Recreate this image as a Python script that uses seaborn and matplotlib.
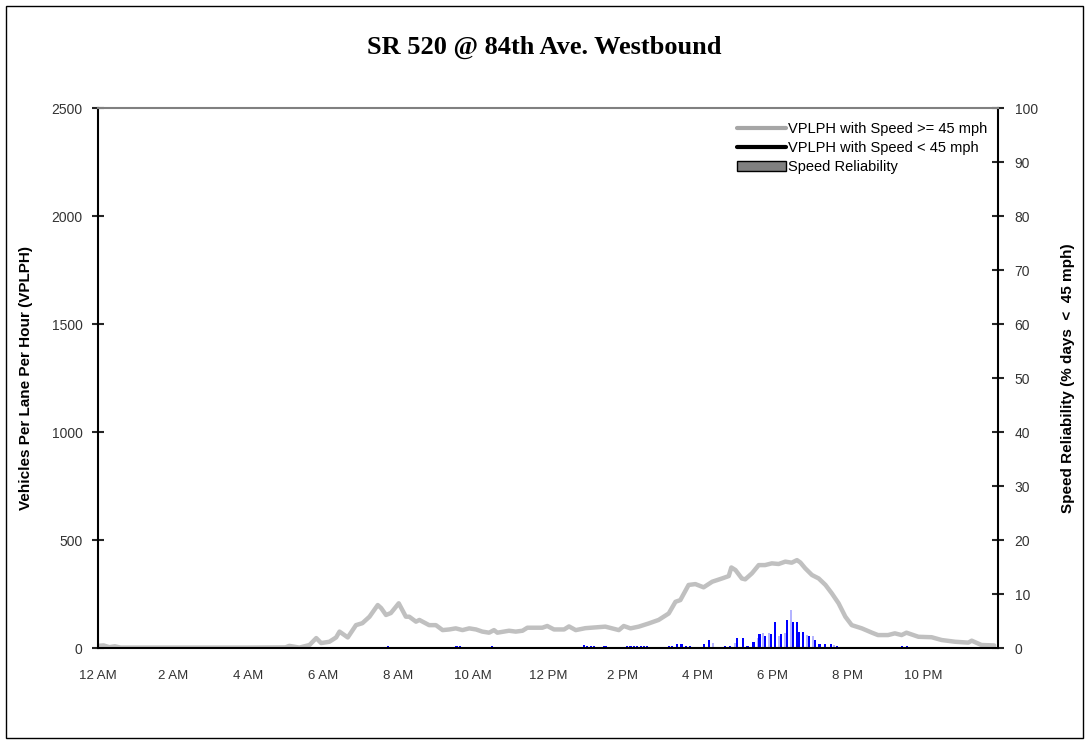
import numpy as np
import pandas as pd
import matplotlib
matplotlib.use("Agg")
import matplotlib.pyplot as plt
import seaborn as sns
from matplotlib.lines import Line2D
from matplotlib.patches import Patch, Rectangle

sns.set_style("white")
plt.rcParams['font.family'] = ['Liberation Sans', 'DejaVu Sans']
plt.rcParams['text.color'] = 'black'
plt.rcParams['axes.labelcolor'] = 'black'

# volume, hour of day -> vehicles per lane per hour (speed >= 45 mph)
hours = [0.0, 0.15, 0.3, 0.45, 0.6, 1.0, 2.0, 3.0, 4.0, 5.0, 5.1, 5.37, 5.64, 5.82, 5.95,
         6.17, 6.35, 6.44, 6.66, 6.88, 7.05, 7.24, 7.46, 7.55, 7.68, 7.81, 8.02, 8.21, 8.3,
         8.48, 8.57, 8.83, 9.01, 9.19, 9.37, 9.54, 9.72, 9.9, 10.08, 10.25, 10.43, 10.56,
         10.65, 10.96, 11.14, 11.32, 11.45, 11.85, 11.98, 12.16, 12.43, 12.56, 12.74, 13.0,
         13.53, 13.89, 14.02, 14.2, 14.42, 14.69, 14.95, 15.22, 15.4, 15.53, 15.75, 15.93,
         16.15, 16.38, 16.64, 16.82, 16.89, 17.0, 17.17, 17.26, 17.44, 17.62, 17.79, 17.97,
         18.15, 18.33, 18.5, 18.64, 18.73, 18.86, 19.04, 19.22, 19.4, 19.57, 19.75, 19.93,
         20.1, 20.37, 20.64, 20.8, 21.07, 21.25, 21.43, 21.56, 21.88, 22.23, 22.5, 22.86,
         23.21, 23.3, 23.56, 23.9]
vplph = [10, 12, 4, 8, 2, 2, 2, 2, 2, 3, 10, 2, 14, 46, 23,
         29, 49, 76, 49, 106, 115, 145, 199, 185, 153, 162, 207, 145, 145,
         122, 130, 106, 106, 83, 86, 91, 83, 91, 86, 76, 71, 83,
         71, 80, 76, 80, 94, 94, 102, 86, 86, 100, 83, 92,
         99, 83, 102, 91, 99, 114, 130, 160, 214, 222, 292, 296,
         281, 307, 322, 333, 373, 361, 322, 318, 346, 384, 384, 392,
         389, 400, 395, 407, 396, 369, 338, 322, 292, 253, 207, 145,
         106, 91, 71, 60, 60, 68, 60, 71, 52, 50, 37, 29,
         25, 34, 14, 12]

# speed reliability, hour of day -> % of days below 45 mph
rel_hours = [7.74, 9.56, 9.65, 10.5, 12.96, 13.05, 13.14, 13.23, 13.49, 13.54,
             14.11, 14.2, 14.29, 14.38, 14.47, 14.56, 14.64, 15.22, 15.31, 15.44,
             15.56, 15.69, 15.78, 16.15, 16.3, 16.39, 16.55, 16.73, 16.86, 16.98,
             17.05, 17.2, 17.32, 17.48, 17.59, 17.64, 17.73, 17.79, 17.9, 17.95,
             18.06, 18.15, 18.22, 18.33, 18.38, 18.48, 18.54, 18.65, 18.7, 18.8,
             18.9, 18.96, 19.07, 19.12, 19.24, 19.39, 19.55, 19.62, 19.71, 21.45, 21.58]
rel_pct = [0.4, 0.4, 0.4, 0.3, 0.5, 0.4, 0.4, 0.4, 0.4, 0.4,
           0.3, 0.4, 0.3, 0.4, 0.3, 0.4, 0.3, 0.4, 0.4, 0.75,
           0.75, 0.3, 0.4, 0.75, 1.5, 1.0, 0.2, 0.3, 0.3, 0.9,
           1.8, 1.8, 0.3, 1.1, 1.8, 2.6, 2.7, 2.2, 2.7, 2.6,
           4.8, 2.2, 2.6, 2.7, 5.2, 7.0, 4.8, 4.8, 3.0, 3.0,
           2.4, 2.2, 2.2, 1.5, 0.75, 0.75, 0.75, 0.6, 0.4, 0.4, 0.4]
# bars that print pale in the source picture
faint = [16.39, 16.98, 17.59, 17.73, 17.9, 18.15, 18.33, 18.48, 18.9, 19.07, 19.62]

tick_hours = list(range(0, 25))
tick_labels = ['12 AM', '', '2 AM', '', '4 AM', '', '6 AM', '', '8 AM', '', '10 AM', '',
               '12 PM', '', '2 PM', '', '4 PM', '', '6 PM', '', '8 PM', '', '10 PM', '', '']

flow = pd.DataFrame({'hour': hours, 'vplph': vplph})
bar_colors = ['#b4b4ff' if h in faint else '#0000ff' for h in rel_hours]

fig = plt.figure(figsize=(10.89, 7.44), dpi=100)
ax = fig.add_axes([0.09, 0.129, 0.8264, 0.7258])
ax2 = ax.twinx()
ax.set_zorder(ax2.get_zorder() + 1)
ax.patch.set_visible(False)

ax2.bar(rel_hours, rel_pct, width=0.055, color=bar_colors, linewidth=0)
sns.lineplot(data=flow, x='hour', y='vplph', ax=ax, color='#c0c0c0', linewidth=3.2)

ax.set_xlim(0, 24)
ax.set_ylim(0, 2500)
ax2.set_ylim(0, 100)
ax.set_xticks(tick_hours)
ax.set_xticklabels(tick_labels)
ax.set_yticks(range(0, 2501, 500))
ax2.set_yticks(range(0, 101, 10))

ax.tick_params(axis='x', direction='inout', length=8, width=1.5, pad=12, labelsize=9.5, labelcolor='#333333')
ax.tick_params(axis='y', direction='inout', length=8, width=1.5, pad=7, labelsize=10, labelcolor='#333333')
ax2.tick_params(axis='y', direction='inout', length=8, width=1.5, pad=8, labelsize=10, labelcolor='#333333')

ax.set_xlabel('')
ax.set_ylabel('Vehicles Per Lane Per Hour (VPLPH)', fontsize=11, fontweight='bold')
ax2.set_ylabel('Speed Reliability (% days  <  45 mph)', fontsize=11, fontweight='bold')
ax.yaxis.set_label_coords(-0.072, 0.5)
ax2.yaxis.set_label_coords(1.07, 0.5)

for side in ['left', 'bottom']:
    ax.spines[side].set_color('black')
    ax.spines[side].set_linewidth(1.5)
ax.spines['top'].set_color('#808080')
ax.spines['top'].set_linewidth(1.5)
ax.spines['right'].set_visible(False)
for side in ['left', 'bottom', 'top']:
    ax2.spines[side].set_visible(False)
ax2.spines['right'].set_color('black')
ax2.spines['right'].set_linewidth(1.5)

handles = [Line2D([], [], color='#a6a6a6', linewidth=3),
           Line2D([], [], color='black', linewidth=3),
           Patch(facecolor='#808080', edgecolor='black')]
ax.legend(handles, ['VPLPH with Speed >= 45 mph', 'VPLPH with Speed < 45 mph', 'Speed Reliability'],
          loc='upper right', bbox_to_anchor=(0.995, 0.985), frameon=False, fontsize=10.5,
          handlelength=3.4, handletextpad=0.15, labelspacing=0.35, borderaxespad=0)

fig.text(0.5, 0.936, 'SR 520 @ 84th Ave. Westbound', ha='center', va='center',
         fontsize=19, fontweight='bold', family='Liberation Serif', color='black')
fig.patches.append(Rectangle((0.0055, 0.008), 0.989, 0.984, transform=fig.transFigure,
                             fill=False, edgecolor='black', linewidth=1))

fig.savefig('out.png', dpi=100)
